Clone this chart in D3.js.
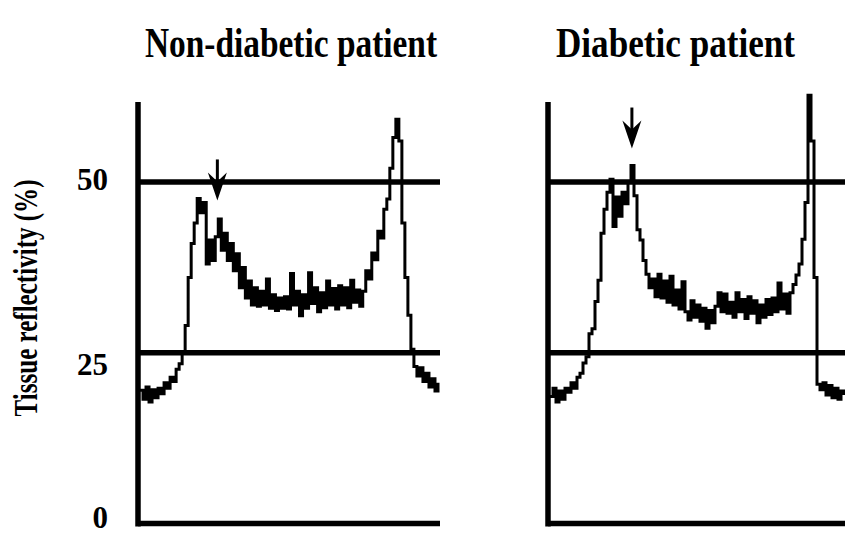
<!DOCTYPE html>
<html>
<head>
<meta charset="utf-8">
<script src="https://cdn.jsdelivr.net/npm/d3@7"></script>
<style>
  html, body { margin: 0; padding: 0; background: #fff; }
  svg { display: block; }
</style>
</head>
<body>
<svg id="chart"></svg>
<script>
// reflectivity traces, one sample every ~3px along the scan
const nonDiabetic = [
    19.5, 18.2, 20.0, 17.8, 19.6, 18.4,
    19.8, 19.0, 20.6, 19.8, 21.4, 20.8, 22.6,
    23.4, 25.2, 29, 36, 41, 44, 47.6, 45.5, 47, 38, 41.5, 38.5, 42, 44.6, 40, 42.5, 38.5, 41, 37, 39.5, 34.5, 37.5,
    33, 35.5, 32, 34.5, 31.8, 34, 32, 35.8, 31.5, 33.5, 31.2, 33, 31.5, 33.2, 31.4, 36.6, 32, 34, 30.4, 33.5,
    31.5, 36.7, 32.2, 34.5, 31, 33.8, 31.6, 35.5, 32, 34.4, 31.4, 34.8, 32, 34.5, 31.6, 35.6, 32.4, 34.2, 31.8,
    34, 37, 35.8, 39.6, 38.6, 42.8, 41.8, 46, 47.5, 52, 56.5, 59.2, 56, 44, 36, 30.5, 25.5,
    23, 21.6, 22.8, 20.8, 22, 20, 21.2, 19.4, 20.6
];
const diabetic = [
    18.6, 19.8, 17.8, 19.4, 18.2, 19.8,
    19.2, 20.6, 19.8, 21.4, 22, 23.5, 24.4,
    27.8, 28.5, 32.5, 35.6, 42.5, 46, 48.5, 50.4,
    43.5, 47.8, 45, 48.5, 46.8, 50, 52.4, 48, 43, 41.5, 38.5, 36.5, 34.5, 35.8,
    33.2, 36.5, 33, 35.5, 32.4, 36.2, 32, 34.2, 31.4, 35.4, 31, 29.8, 32.6, 30.2, 32, 29.6, 31.5,
    28.6, 31.2, 29.4, 31.8, 33.8, 31, 33.6, 30.8, 32.4, 30.2, 33.8, 31, 32.8, 30, 33.2, 30.8,
    32.6, 29.4, 32, 30.2, 32.8, 30.6, 33, 31, 35.2, 31.4, 33.6, 30.8, 33.8, 35, 36.4, 38,
    41.6, 47, 62.7, 56, 36, 20.4, 19.6, 20.6, 18.8, 20.2, 18.4, 19.8, 18.2, 19.4, 18.8
];
const titles = ["Non-diabetic patient", "Diabetic patient"];
const yTicks = [0, 25, 50];
const refLines = [25, 50];
// arrow marks: sample index and the value the arrow points to
const arrowIndex = [25.7, 27.3];
const arrowTip = [47.3, 54.9];

const width = 845;
const height = 536;

const svg = d3.select("#chart")
    .attr("width", width)
    .attr("height", height)
    .attr("viewBox", [0, 0, width, height])
    .style("font-family", "'Liberation Serif', 'Times New Roman', serif")
    .style("font-weight", "bold");

const y = d3.scaleLinear().domain([0, 50]).range([523.5, 182]);

const panels = [
    { title: titles[0], values: nonDiabetic, left: 138, right: 440, x0: 140, x1: 438,
      titleX: 145, titleW: 292, arrow: 0 },
    { title: titles[1], values: diabetic, left: 548, right: 845, x0: 550, x1: 844,
      titleX: 556, titleW: 239, arrow: 1 }
];

const line = d3.line().curve(d3.curveStepAfter);

panels.forEach(p => {
    const x = d3.scaleLinear().domain([0, p.values.length - 1]).range([p.x0, p.x1]);
    const g = svg.append("g");

    // vertical axis
    g.append("line")
        .attr("x1", p.left).attr("x2", p.left)
        .attr("y1", 102).attr("y2", y(0) + 3)
        .attr("stroke", "#000").attr("stroke-width", 5.5);

    // baseline + reference lines
    g.selectAll(".ref")
        .data([0, ...refLines])
        .join("line")
        .attr("x1", p.left).attr("x2", p.right)
        .attr("y1", d => y(d)).attr("y2", d => y(d))
        .attr("stroke", "#000").attr("stroke-width", 5.5);

    g.append("path")
        .datum(p.values)
        .attr("d", line.x((d, i) => x(i)).y(d => y(d)))
        .attr("fill", "none")
        .attr("stroke", "#000")
        .attr("stroke-width", 3)
        .attr("stroke-linejoin", "miter");

    // arrow
    const ax = x(arrowIndex[p.arrow]);
    const ay = y(arrowTip[p.arrow]);
    g.append("line")
        .attr("x1", ax).attr("x2", ax)
        .attr("y1", ay - 41).attr("y2", ay - 10)
        .attr("stroke", "#000").attr("stroke-width", 3);
    g.append("path")
        .attr("d", `M${ax},${ay} L${ax - 9.5},${ay - 28} L${ax},${ay - 19} L${ax + 9.5},${ay - 28} Z`)
        .attr("fill", "#000");

    svg.append("text")
        .attr("x", p.titleX)
        .attr("y", 57)
        .attr("font-size", 42)
        .attr("textLength", p.titleW)
        .attr("lengthAdjust", "spacingAndGlyphs")
        .text(p.title);
});

// tick labels (left only)
const tickNudge = { 0: 0, 25: 11, 50: -3 };
svg.selectAll(".tick")
    .data(yTicks)
    .join("text")
    .attr("x", 108)
    .attr("y", d => d === 0 ? height - 8 : y(d) + tickNudge[d])
    .attr("dy", d => d === 0 ? 0 : "0.35em")
    .attr("text-anchor", "end")
    .attr("font-size", 31)
    .text(d => d);

svg.append("text")
    .attr("transform", "translate(37,298) rotate(-90)")
    .attr("text-anchor", "middle")
    .attr("font-size", 34)
    .attr("textLength", 237)
    .attr("lengthAdjust", "spacingAndGlyphs")
    .text("Tissue reflectivity (%)");
</script>
</body>
</html>
